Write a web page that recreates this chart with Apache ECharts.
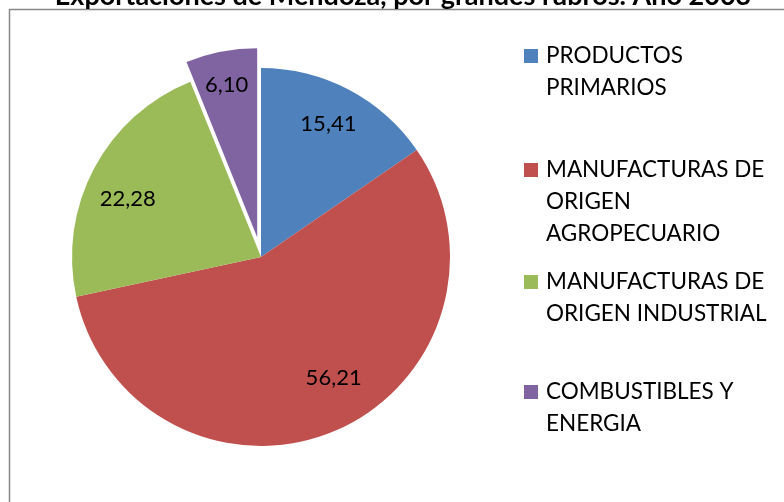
<!DOCTYPE html>
<html>
<head>
<meta charset="utf-8">
<script src="https://cdn.jsdelivr.net/npm/echarts@6/dist/echarts.min.js"></script>
<style>
  html, body { margin: 0; padding: 0; background: #fff; }
  #main { width: 784px; height: 502px; }
</style>
</head>
<body>
<div id="main"></div>
<script>
// rubros y valores (%)
const rubros = [
  'PRODUCTOS\nPRIMARIOS',
  'MANUFACTURAS DE\nORIGEN\nAGROPECUARIO',
  'MANUFACTURAS DE\nORIGEN INDUSTRIAL',
  'COMBUSTIBLES Y\nENERGIA'
];
const valores = [15.41, 56.21, 22.28, 6.10];
const colores = ['#4F81BD', '#C0504D', '#9BBB59', '#8064A2'];
// desplazamiento de las etiquetas respecto a la posicion interior
const ajusteEtiqueta = [[22, -47], [34, 31], [-47, -12], [-12, -57]];
// altura (y) de la primera linea de cada leyenda
const legendaY = [56, 170, 282, 392];

const LH = 32;
const chart = echarts.init(document.getElementById('main'));

const leyendas = rubros.map((r, i) => {
  let n = r.split('\n').length;
  return {
    data: [r],
    left: 524,
    top: legendaY[i] - (2 * n - 1) * LH / 2,
    padding: 0,
    icon: 'rect',
    itemWidth: 14,
    itemHeight: 14,
    selectedMode: false,
    // lineas vacias arriba para que el icono quede junto a la primera linea
    formatter: name => '\n'.repeat(n - 1) + name,
    textStyle: {
      fontFamily: 'Lato',
      fontSize: 22.5,
      color: '#000',
      lineHeight: LH,
      padding: [0, 0, 0, 3]
    }
  };
});

chart.setOption({
  animation: false,
  color: colores,
  title: {
    text: 'Exportaciones de Mendoza, por grandes rubros. Año 2003',
    left: 403,
    textAlign: 'center',
    top: -17,
    padding: 0,
    textStyle: { fontFamily: 'Lato', fontSize: 27, fontWeight: 'bold', color: '#000' }
  },
  graphic: [{
    type: 'rect',
    shape: { x: 9.5, y: 9.5, width: 820, height: 620 },
    style: { fill: 'none', stroke: '#888', lineWidth: 1.5 },
    silent: true
  }],
  legend: leyendas,
  series: [{
    type: 'pie',
    center: [261, 257],
    radius: 189,
    startAngle: 90,
    clockwise: true,
    selectedMode: 'single',
    selectedOffset: 20,
    emphasis: { disabled: true },
    labelLine: { show: false },
    label: {
      show: true,
      position: 'inner',
      fontFamily: 'Lato',
      fontSize: 22,
      color: '#000',
      formatter: p => p.value.toFixed(2).replace('.', ',')
    },
    data: rubros.map((r, i) => ({
      name: r,
      value: valores[i],
      selected: i === 3,
      label: { offset: ajusteEtiqueta[i] },
      select: { label: { offset: ajusteEtiqueta[i] } }
    }))
  }]
});
</script>
</body>
</html>
